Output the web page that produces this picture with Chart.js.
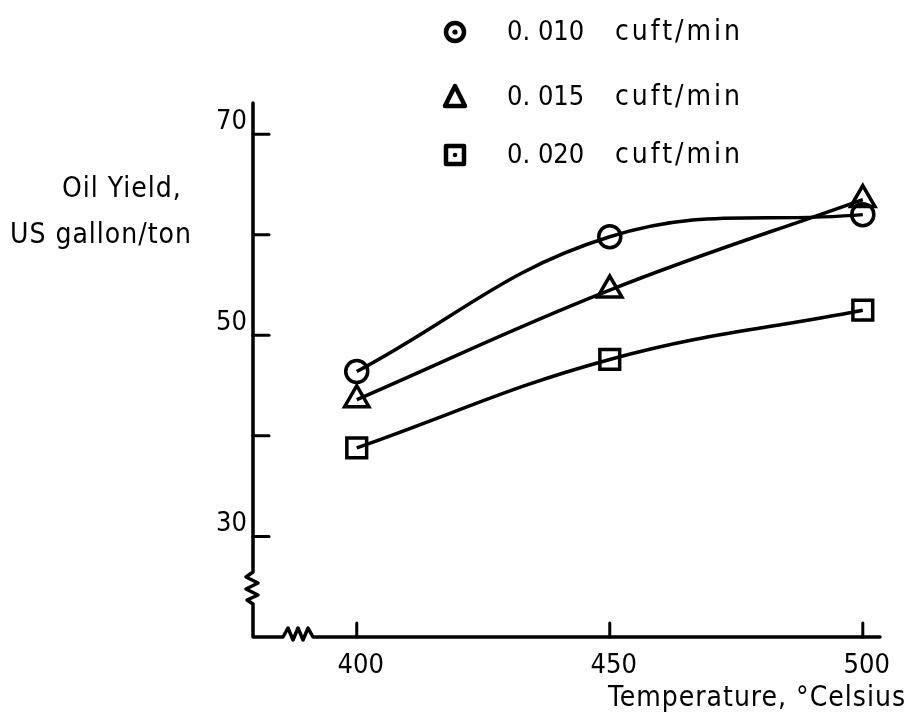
<!DOCTYPE html>
<html>
<head>
<meta charset="utf-8">
<script src="https://cdn.jsdelivr.net/npm/chart.js@4/dist/chart.umd.min.js"></script>
<style>
  html, body { margin: 0; padding: 0; background: #fff; }
  #wrap { position: relative; width: 913px; height: 723px; }
</style>
</head>
<body>
<div id="wrap"><canvas id="oilChart"></canvas></div>
<script>
// data
const temperatures = [400, 450, 500];
const flowRates = ['0. 010', '0. 015', '0. 020'];
const flowUnit = 'cuft/min';
const yield010 = [46.4, 59.8, 62.0];
const yield015 = [43.6, 54.5, 63.5];
const yield020 = [38.8, 47.6, 52.5];
const yLabelled = [30, 50, 70];
const xLabelled = [400, 450, 500];

const FONT = '"DejaVu Sans Condensed", "DejaVu Sans", sans-serif';
const INK = '#000';

const toPoints = arr => arr.map((v, i) => ({ x: temperatures[i], y: v }));

function series(label, values, style, radius) {
    return {
        label: label,
        data: toPoints(values),
        borderColor: INK,
        borderWidth: 3.5,
        tension: 0.4,
        pointStyle: style,
        pointRadius: radius,
        pointBorderWidth: 3.5,
        pointBorderColor: INK,
        pointBackgroundColor: 'rgba(0,0,0,0)',
        fill: false
    };
}

// axes with break marks, inward ticks, legend and titles
const paperPlugin = {
    id: 'paper',
    afterDraw(chart) {
        const ctx = chart.ctx;
        const xs = chart.scales.x, ys = chart.scales.y;
        const a = chart.chartArea;
        ctx.save();
        ctx.strokeStyle = INK;
        ctx.fillStyle = INK;
        ctx.lineWidth = 3.5;
        ctx.lineJoin = 'round';
        ctx.lineCap = 'round';

        // y axis with zigzag break
        const x0 = a.left;
        ctx.beginPath();
        ctx.moveTo(x0, a.top);
        ctx.lineTo(x0, 572);
        ctx.lineTo(x0 - 7, 577);
        ctx.lineTo(x0 + 5, 583);
        ctx.lineTo(x0 - 7, 589);
        ctx.lineTo(x0 + 5, 595);
        ctx.lineTo(x0 - 6, 600);
        ctx.lineTo(x0, 604);
        ctx.lineTo(x0, a.bottom);
        // x axis with zigzag break
        ctx.lineTo(283, a.bottom);
        ctx.lineTo(288, a.bottom - 9);
        ctx.lineTo(293, a.bottom + 3);
        ctx.lineTo(298, a.bottom - 9);
        ctx.lineTo(303, a.bottom + 3);
        ctx.lineTo(308, a.bottom - 9);
        ctx.lineTo(313, a.bottom);
        ctx.lineTo(a.right, a.bottom);
        ctx.stroke();

        // inward tick marks
        ctx.lineWidth = 3;
        ys.ticks.forEach(t => {
            if (t.value <= ys.min) return;
            const py = ys.getPixelForValue(t.value);
            ctx.beginPath();
            ctx.moveTo(x0, py);
            ctx.lineTo(x0 + 16, py);
            ctx.stroke();
        });
        xs.ticks.forEach(t => {
            const px = xs.getPixelForValue(t.value);
            ctx.beginPath();
            ctx.moveTo(px, a.bottom);
            ctx.lineTo(px, a.bottom - 14);
            ctx.stroke();
        });

        // legend
        ctx.font = '27px ' + FONT;
        ctx.textBaseline = 'middle';
        ctx.textAlign = 'left';
        const lx = 455;
        const rows = [32, 97, 155];
        chart.data.datasets.forEach((ds, i) => {
            const cy = rows[i];
            ctx.lineWidth = 4.5;
            ctx.beginPath();
            if (ds.pointStyle === 'circle') {
                ctx.arc(lx, cy, 9, 0, Math.PI * 2);
                ctx.stroke();
                ctx.beginPath();
                ctx.arc(lx, cy, 2.6, 0, Math.PI * 2);
                ctx.fill();
            } else if (ds.pointStyle === 'triangle') {
                ctx.moveTo(lx, cy - 11);
                ctx.lineTo(lx + 10, cy + 9);
                ctx.lineTo(lx - 10, cy + 9);
                ctx.closePath();
                ctx.stroke();
            } else {
                ctx.rect(lx - 9, cy - 9, 18, 18);
                ctx.stroke();
                ctx.beginPath();
                ctx.arc(lx, cy, 2.3, 0, Math.PI * 2);
                ctx.fill();
            }
            ctx.font = '27px ' + FONT;
            ctx.letterSpacing = '0px';
            ctx.fillText(ds.label, 507, cy + 1);
            ctx.font = '28px ' + FONT;
            ctx.letterSpacing = '3px';
            ctx.fillText(flowUnit, 615, cy + 1);
        });

        // axis titles
        ctx.font = '28px ' + FONT;
        ctx.letterSpacing = '1px';
        ctx.textBaseline = 'alphabetic';
        ctx.fillText('Oil Yield,', 62, 197);
        ctx.fillText('US gallon/ton', 10, 243);
        ctx.textAlign = 'right';
        ctx.fillText('Temperature, \u00b0Celsius', 906, 706);
        ctx.restore();
    }
};

const chart = new Chart(document.getElementById('oilChart'), {
    type: 'line',
    data: {
        datasets: [
            series(flowRates[0], yield010, 'circle', 11),
            series(flowRates[1], yield015, 'triangle', 14),
            series(flowRates[2], yield020, 'rect', 14)
        ]
    },
    options: {
        responsive: true,
        maintainAspectRatio: false,
        animation: false,
        layout: { padding: { left: 0, right: 33, top: 103, bottom: 0 } },
        plugins: { legend: { display: false }, tooltip: { enabled: false } },
        scales: {
            x: {
                type: 'linear',
                min: 379.5,
                max: 503.4,
                grid: { display: false, drawTicks: false },
                border: { display: false },
                afterFit(s) { s.height = 86; },
                ticks: {
                    stepSize: 50,
                    includeBounds: false,
                    autoSkip: false,
                    maxRotation: 0,
                    padding: 13,
                    labelOffset: 4,
                    color: INK,
                    font: { family: FONT, size: 27 },
                    callback: v => xLabelled.includes(v) ? String(v) : ''
                }
            },
            y: {
                type: 'linear',
                min: 20,
                max: 73.1,
                grid: { display: false, drawTicks: false },
                border: { display: false },
                afterFit(s) { s.width = 253; },
                ticks: {
                    stepSize: 10,
                    includeBounds: false,
                    autoSkip: false,
                    padding: 6,
                    labelOffset: -12,
                    color: INK,
                    font: { family: FONT, size: 27 },
                    callback: v => yLabelled.includes(v) ? String(v) : ''
                }
            }
        }
    },
    plugins: [paperPlugin]
});
</script>
</body>
</html>
